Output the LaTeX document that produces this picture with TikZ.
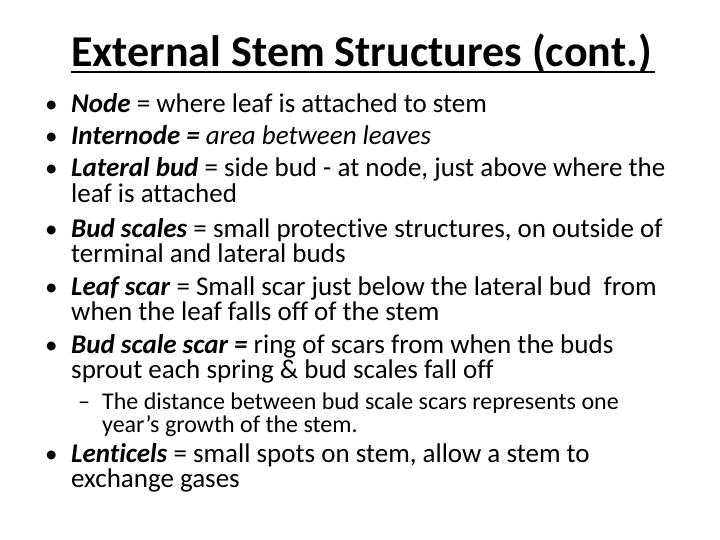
\documentclass[tikz,border=0pt]{standalone}
\usepackage{fontspec}
\setmainfont[Ligatures=NoCommon]{Carlito}
\usepackage{tikz}

\tikzset{
    bul/.style={anchor=base west, inner sep=0pt, font=\fontsize{25}{25.5}\selectfont},
    itemtext/.style={anchor=base west, inner sep=0pt, align=left,
                     font=\fontsize{27}{25.5}\selectfont},
    subtext/.style={anchor=base west, inner sep=0pt, align=left,
                    font=\fontsize{24}{23}\selectfont}
}

% base anchor of a two-line node is the baseline of its second line
\begin{document}
\begin{tikzpicture}[x=1pt, y=-1pt]
    \useasboundingbox[fill=white] (0,0) rectangle (720,540);

    \node[anchor=base west, inner sep=0pt, font=\fontsize{44}{48}\selectfont\bfseries]
        (title) at (71,67) {External Stem Structures (cont.)};
    \draw[line width=2.6pt] ([yshift=-5pt]title.base west) -- ([yshift=-5pt,xshift=3pt]title.base east);

    \node[bul] (b1) at (45,113) {•};
    \node[itemtext] (t1) at (71,113) {\textbf{\textit{Node}} = where leaf is attached to stem};
    \node[bul] (b2) at (45,145) {•};
    \node[itemtext] (t2) at (71,145) {\textbf{\textit{Internode =}} \textit{area between leaves}};
    \node[bul] (b3) at (45,177) {•};
    \node[itemtext] (t3) at (71,202.5) {\textbf{\textit{Lateral bud}} = side bud - at node, just above where the\\leaf is attached};
    \node[bul] (b4) at (45,237) {•};
    \node[itemtext] (t4) at (71,262.5) {\textbf{\textit{Bud scales}} = small protective structures, on outside of\\terminal and lateral buds};
    \node[bul] (b5) at (45,295) {•};
    \node[itemtext] (t5) at (71,320.5) {\textbf{\textit{Leaf scar}} = Small scar just below the lateral bud\ \ from\\when the leaf falls off of the stem};
    \node[bul] (b6) at (45,353) {•};
    \node[itemtext] (t6) at (71,378.5) {\textbf{\textit{Bud scale scar =}} ring of scars from when the buds\\sprout each spring \& bud scales fall off};

    \node[subtext] (d1) at (78,409) {–};
    \node[subtext] (s1) at (102,432) {The distance between bud scale scars represents one\\year’s growth of the stem.};

    \node[bul] (b7) at (45,462) {•};
    \node[itemtext] (t7) at (71,487.5) {\textbf{\textit{Lenticels}} = small spots on stem, allow a stem to\\exchange gases};
\end{tikzpicture}
\end{document}
